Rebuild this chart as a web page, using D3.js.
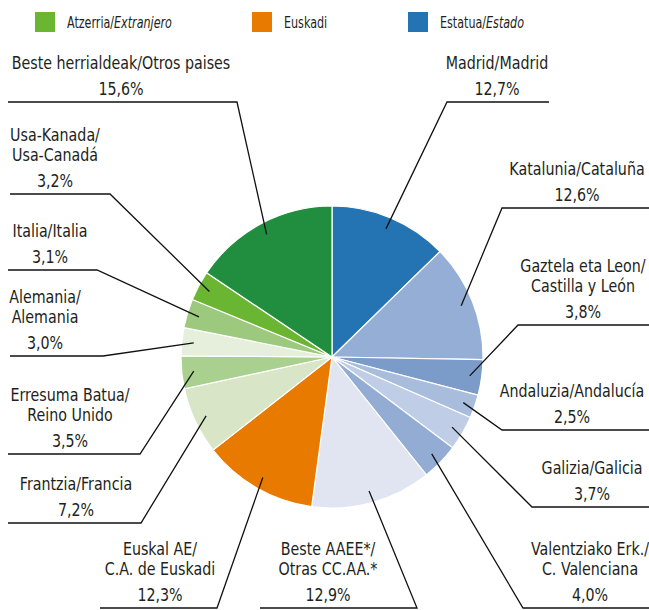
<!DOCTYPE html>
<html>
<head>
<meta charset="utf-8">
<script src="https://cdn.jsdelivr.net/npm/d3@7"></script>
<style>
body { margin: 0; background: #fff; }
text { font-family: "DejaVu Sans Condensed", "Liberation Sans", sans-serif; fill: #231f20; }
</style>
</head>
<body>
<div id="chart"></div>
<script>
// slices, clockwise from 12 o'clock
var names = [
    ["Madrid/Madrid"],
    ["Katalunia/Cataluña"],
    ["Gaztela eta Leon/", "Castilla y  León"],
    ["Andaluzia/Andalucía"],
    ["Galizia/Galicia"],
    ["Valentziako Erk./", "C. Valenciana"],
    ["Beste AAEE*/", "Otras CC.AA.*"],
    ["Euskal AE/", "C.A. de Euskadi"],
    ["Frantzia/Francia"],
    ["Erresuma Batua/", "Reino Unido"],
    ["Alemania/", "Alemania"],
    ["Italia/Italia"],
    ["Usa-Kanada/", "Usa-Canadá"],
    ["Beste herrialdeak/Otros paises"]
];
var values = [12.7, 12.6, 3.8, 2.5, 3.7, 4.0, 12.9, 12.3, 7.2, 3.5, 3.0, 3.1, 3.2, 15.6];

var legendNames = [["Atzerria/", "Extranjero"], ["Euskadi", ""], ["Estatua/", "Estado"]];

// styles
var sliceColors = ["#2473b3", "#95aed5", "#7b9cc9", "#a8bcdc", "#bfcde6", "#93acd4", "#e0e5f1",
                   "#e97a00", "#d8e6c7", "#a9d08f", "#e6efdc", "#9dc97e", "#6ab532", "#218e3f"];
var legendColors = ["#6ab532", "#e97a00", "#2473b3"];

// label placement: text centre, underline y, underline ends, which end the leader joins
var labelLayout = [
    {tx: 497, ly: 102, x0: 447, x1: 549, side: "R"},
    {tx: 577, ly: 208, x0: 502, x1: 649, side: "R"},
    {tx: 583, ly: 325, x0: 518, x1: 649, side: "R"},
    {tx: 572, ly: 430, x0: 502, x1: 649, side: "R"},
    {tx: 592, ly: 507, x0: 532, x1: 649, side: "R"},
    {tx: 590, ly: 608, x0: 523, x1: 649, side: "R"},
    {tx: 328, ly: 608, x0: 260, x1: 417, side: "L"},
    {tx: 160, ly: 608, x0: 100, x1: 217, side: "L"},
    {tx: 76,  ly: 523, x0: 8,   x1: 141, side: "L"},
    {tx: 70,  ly: 454, x0: 8,   x1: 140, side: "L"},
    {tx: 45,  ly: 356, x0: 10,  x1: 103, side: "L"},
    {tx: 50,  ly: 270, x0: 8,   x1: 97,  side: "L"},
    {tx: 55,  ly: 194, x0: 10,  x1: 110, side: "L"},
    {tx: 121, ly: 102, x0: 8,   x1: 237, side: "L"}
];

var width = 649, height = 610;
var cx = 332, cy = 357, radius = 151;
var squeeze = 0.88;   // the original face is narrower than anything installed

var svg = d3.select("#chart")
    .append("svg")
    .attr("width", width)
    .attr("height", height);

// legend
var legend = svg.append("g");
var legendX = [35, 252, 408];
legendNames.forEach(function(n, i) {
    legend.append("rect")
        .attr("x", legendX[i])
        .attr("y", 12)
        .attr("width", 20)
        .attr("height", 20)
        .attr("fill", legendColors[i]);
    var t = legend.append("text")
        .attr("transform", "translate(" + (legendX[i] + 32) + ",28) scale(0.8,1)")
        .attr("font-size", 15.5);
    t.append("tspan").text(n[0]);
    if (n[1]) t.append("tspan").attr("font-style", "italic").text(n[1]);
});

// pie
var pie = d3.pie().sort(null).value(d => d);
var arcs = pie(values);
var arc = d3.arc().innerRadius(0).outerRadius(radius);
var anchorArc = d3.arc().innerRadius(139).outerRadius(139);

var g = svg.append("g").attr("transform", "translate(" + cx + "," + cy + ")");
g.selectAll("path")
    .data(arcs)
    .enter()
    .append("path")
    .attr("d", arc)
    .attr("fill", (d, i) => sliceColors[i])
    .attr("stroke", "#fff")
    .attr("stroke-width", 1.2);

var fmt = d3.format(".1f");
var pct = v => fmt(v).replace(".", ",") + "%";

function label(sel, x, y, s) {
    sel.append("text")
        .attr("transform", "translate(" + x + "," + y + ") scale(" + squeeze + ",1)")
        .attr("text-anchor", "middle")
        .attr("font-size", 18)
        .text(s);
}

var labels = svg.append("g");
arcs.forEach(function(d, i) {
    var L = labelLayout[i];
    var c = anchorArc.centroid(d);
    var p = [cx + c[0], cy + c[1]];
    var pts;
    if (L.side === "L")
        pts = [[L.x0, L.ly], [L.x1, L.ly], p];
    else
        pts = [p, [L.x0, L.ly], [L.x1, L.ly]];
    labels.append("path")
        .attr("d", d3.line()(pts))
        .attr("fill", "none")
        .attr("stroke", "#111")
        .attr("stroke-width", 1.3);

    var lines = names[i];
    var n = lines.length;
    lines.forEach(function(s, k) {
        label(labels, L.tx, L.ly - 33 - (n - 1 - k) * 20, s);
    });
    label(labels, L.tx, L.ly - 7, pct(values[i]));
});
</script>
</body>
</html>
